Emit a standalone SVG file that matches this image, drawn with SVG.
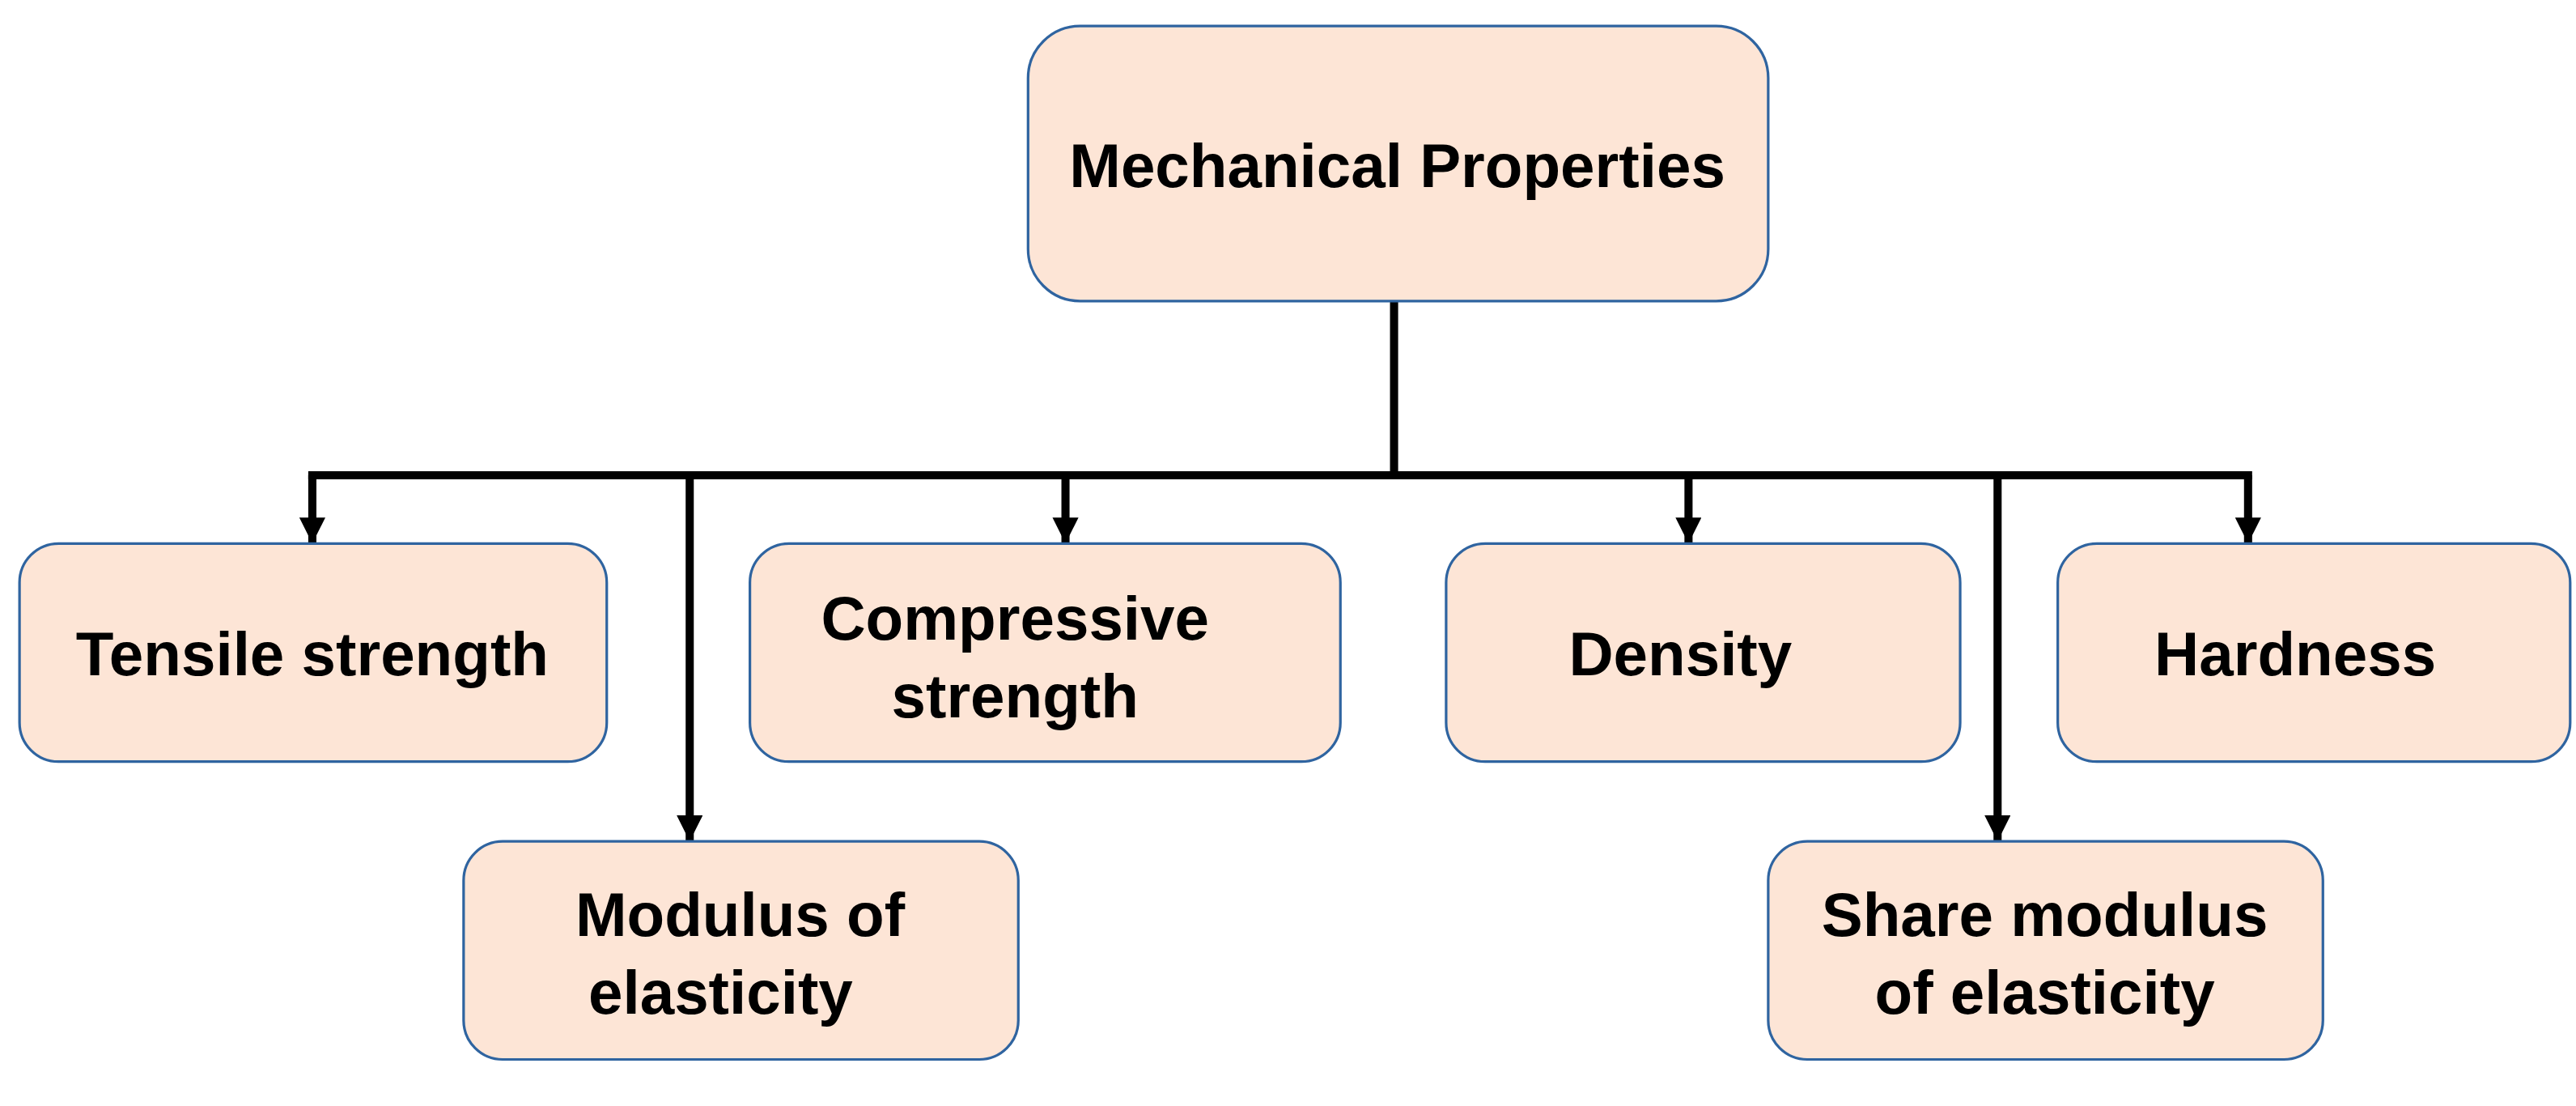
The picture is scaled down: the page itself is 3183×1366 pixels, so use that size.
<svg xmlns="http://www.w3.org/2000/svg" width="3183" height="1366" viewBox="0 0 3183 1366">
<style>
.box{fill:#FDE5D6;stroke:#2F64A0;stroke-width:1.6}
.t{font-family:"Liberation Sans",Arial,sans-serif;font-weight:bold;font-size:38px;fill:#000;text-anchor:middle}
.c{stroke:#000;stroke-width:5;fill:none}
</style>
<defs>
<marker id="ah" viewBox="0 0 10 10" refX="10" refY="5" markerWidth="18" markerHeight="16" markerUnits="userSpaceOnUse" orient="auto"><path d="M0,0 L10,5 L0,10 Z" fill="#000"/></marker></defs>
<rect width="3183" height="1366" fill="#fff"/>
<g transform="scale(2.01)">
<g id="connectors">
<path class="c" d="M857,185 V292"/>
<path class="c" d="M189.5,292 H1384.5"/>
<path class="c" d="M192,292 V334" marker-end="url(#ah)"/>
<path class="c" d="M424,292 V517" marker-end="url(#ah)"/>
<path class="c" d="M655,292 V334" marker-end="url(#ah)"/>
<path class="c" d="M1038,292 V334" marker-end="url(#ah)"/>
<path class="c" d="M1228,292 V517" marker-end="url(#ah)"/>
<path class="c" d="M1382,292 V334" marker-end="url(#ah)"/>
</g>
<g id="root"><rect class="box" x="632" y="16" width="455" height="169" rx="32"/><text class="t" x="859" y="115">Mechanical Properties</text></g>
<g id="tensile"><rect class="box" x="12" y="334" width="361" height="134" rx="24"/><text class="t" x="192" y="415">Tensile strength</text></g>
<g id="compressive"><rect class="box" x="461" y="334" width="363" height="134" rx="24"/><text class="t" x="624" y="393">Compressive</text><text class="t" x="624" y="441">strength</text></g>
<g id="density"><rect class="box" x="889" y="334" width="316" height="134" rx="24"/><text class="t" x="1033" y="415">Density</text></g>
<g id="hardness"><rect class="box" x="1265" y="334" width="315" height="134" rx="24"/><text class="t" x="1411" y="415">Hardness</text></g>
<g id="modulus"><rect class="box" x="285" y="517" width="341" height="134" rx="24"/><text class="t" x="455" y="575">Modulus of</text><text class="t" x="443" y="623">elasticity</text></g>
<g id="share"><rect class="box" x="1087" y="517" width="341" height="134" rx="24"/><text class="t" x="1257" y="575">Share modulus</text><text class="t" x="1257" y="623">of elasticity</text></g>
</g>
</svg>
